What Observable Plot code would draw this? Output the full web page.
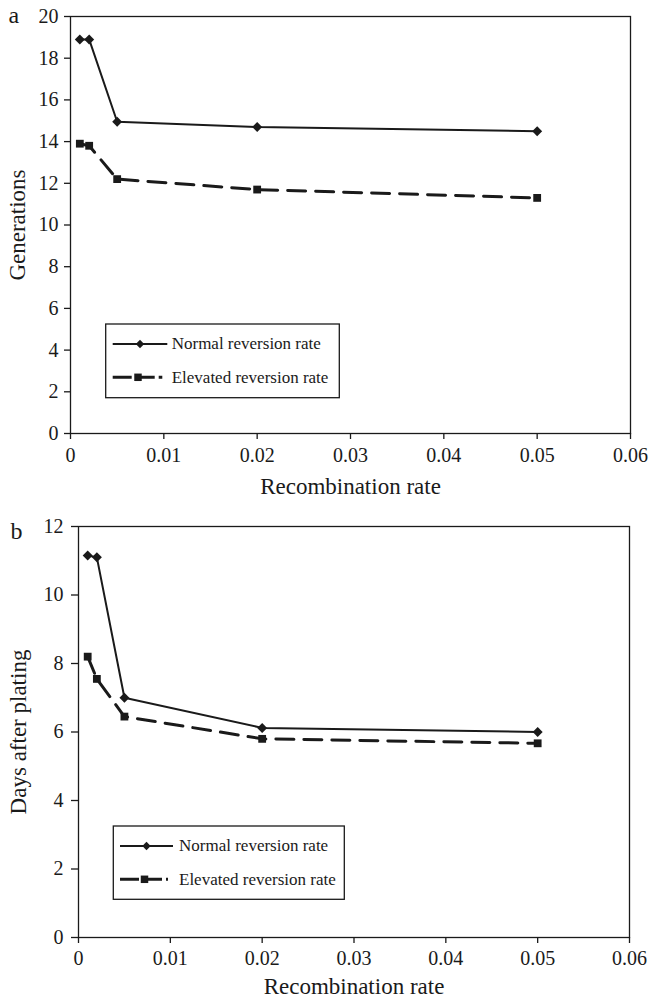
<!DOCTYPE html>
<html>
<head>
<meta charset="utf-8">
<script src="https://cdn.jsdelivr.net/npm/d3@7"></script>
<script src="https://cdn.jsdelivr.net/npm/@observablehq/plot@0.6"></script>
<style>
  html, body { margin: 0; padding: 0; background: #fff; }
  #chart { width: 649px; }
  #chart svg { display: block; }
</style>
</head>
<body>
<div id="chart"></div>
<script>
// ---- data ----
const recombination = [0.001, 0.002, 0.005, 0.02, 0.05];
const generationsNormal = [18.9, 18.9, 14.95, 14.7, 14.5];
const generationsElevated = [13.9, 13.8, 12.2, 11.7, 11.3];
const daysNormal = [11.15, 11.1, 7.0, 6.12, 6.0];
const daysElevated = [8.2, 7.55, 6.45, 5.8, 5.67];
const xTicks = [0, 0.01, 0.02, 0.03, 0.04, 0.05, 0.06];
const genTicks = [0, 2, 4, 6, 8, 10, 12, 14, 16, 18, 20];
const dayTicks = [0, 2, 4, 6, 8, 10, 12];
const seriesNames = ["Normal reversion rate", "Elevated reversion rate"];
const xLabel = "Recombination rate";
const panelLetters = ["a", "b"];
const yLabels = ["Generations", "Days after plating"];

const INK = "#1a1a1a";
const FONT = "'Liberation Serif', 'DejaVu Serif', 'Times New Roman', serif";

function rows(xs, ys) { return xs.map((x, i) => ({x, y: ys[i]})); }

function panel(cfg) {
  const normal = rows(recombination, cfg.normal);
  const elevated = rows(recombination, cfg.elevated);
  const svg = Plot.plot({
    width: 649,
    height: 500,
    marginLeft: cfg.ml,
    marginRight: cfg.mr,
    marginTop: cfg.mt,
    marginBottom: cfg.mb,
    style: {fontFamily: FONT, fontSize: "20px", color: INK, background: "#fff", overflow: "visible"},
    x: {domain: [0, 0.06]},
    y: {domain: cfg.domain},
    marks: [
      Plot.frame({stroke: INK, strokeWidth: 1.3}),
      Plot.axisX({ticks: xTicks, tickFormat: d => String(+d.toFixed(2)), tickSize: 6, tickPadding: cfg.xpad, label: null, strokeWidth: 1.3, fontSize: 20}),
      Plot.axisY({ticks: cfg.ticks, tickFormat: d => String(d), tickSize: cfg.ytick, tickPadding: cfg.ypad, label: null, strokeWidth: 1.3, fontSize: 20}),
      Plot.line(elevated, {x: "x", y: "y", stroke: INK, strokeWidth: 3, strokeDasharray: "18,10"}),
      Plot.line(normal, {x: "x", y: "y", stroke: INK, strokeWidth: 2}),
      Plot.dot(elevated, {x: "x", y: "y", symbol: "square", r: 4.4, fill: INK, stroke: "none"}),
      Plot.dot(normal, {x: "x", y: "y", symbol: "diamond2", r: 4.5, fill: INK, stroke: "none"}),
      Plot.text([cfg.yLabel], {frameAnchor: "left", textAnchor: "middle", dx: cfg.ylabDx, rotate: -90, fontSize: 23, fill: INK}),
      Plot.text([xLabel], {frameAnchor: "bottom", textAnchor: "middle", lineAnchor: "top", dy: cfg.xlabDy, fontSize: 23, fill: INK}),
      Plot.text([cfg.letter], {frameAnchor: "top-left", textAnchor: "start", lineAnchor: "top", dx: cfg.letDx, dy: cfg.letDy, fontSize: 24, fill: INK})
    ]
  });
  // legend box (drawn in pixel space inside the plot svg)
  const L = cfg.legend;
  const g = d3.select(svg).append("g").attr("font-family", FONT).attr("font-size", 17)
    .attr("fill", INK).attr("text-anchor", "start");
  g.append("rect").attr("x", L.x).attr("y", L.y).attr("width", L.w).attr("height", L.h)
    .attr("fill", "#fff").attr("stroke", INK).attr("stroke-width", 1.3);
  // normal row
  g.append("line").attr("x1", L.lx1).attr("x2", L.lx2).attr("y1", L.r1).attr("y2", L.r1)
    .attr("stroke", INK).attr("stroke-width", 2);
  const mx = (L.lx1 + L.lx2) / 2;
  g.append("path").attr("d", d3.symbol(d3.symbolDiamond2, 45)()).attr("transform", `translate(${mx},${L.r1})`).attr("fill", INK);
  g.append("text").attr("x", L.tx).attr("y", L.r1).attr("dy", "0.32em").text(seriesNames[0]);
  // elevated row
  g.append("line").attr("x1", L.lx1).attr("x2", L.lx2 - 5).attr("y1", L.r2).attr("y2", L.r2)
    .attr("stroke", INK).attr("stroke-width", 3).attr("stroke-dasharray", "19,4");
  g.append("path").attr("d", d3.symbol(d3.symbolSquare, 56)()).attr("transform", `translate(${mx - 2},${L.r2})`).attr("fill", INK);
  g.append("text").attr("x", L.tx).attr("y", L.r2).attr("dy", "0.32em").text(seriesNames[1]);
  return svg;
}

const chart = document.getElementById("chart");
chart.appendChild(panel({
  normal: generationsNormal, elevated: generationsElevated,
  domain: [0, 20], ticks: genTicks,
  ml: 70, mr: 19, mt: 16, mb: 67,
  xpad: 8, ytick: 6, ypad: 6,
  yLabel: yLabels[0], ylabDx: -53, xlabDy: 44, letter: panelLetters[0], letDx: -62, letDy: -11,
  legend: {x: 105.7, y: 324, w: 233.6, h: 73.7, r1: 344, r2: 377.3, lx1: 112.7, lx2: 167.3, tx: 171.7}
}));
chart.appendChild(panel({
  normal: daysNormal, elevated: daysElevated,
  domain: [0, 12], ticks: dayTicks,
  ml: 78, mr: 20, mt: 26, mb: 63,
  xpad: 7, ytick: 7, ypad: 8,
  yLabel: yLabels[1], ylabDx: -60, xlabDy: 40, letter: panelLetters[1], letDx: -68, letDy: -5,
  legend: {x: 113.3, y: 326, w: 231, h: 73.3, r1: 346, r2: 379.3, lx1: 120, lx2: 173, tx: 179}
}));
</script>
</body>
</html>
